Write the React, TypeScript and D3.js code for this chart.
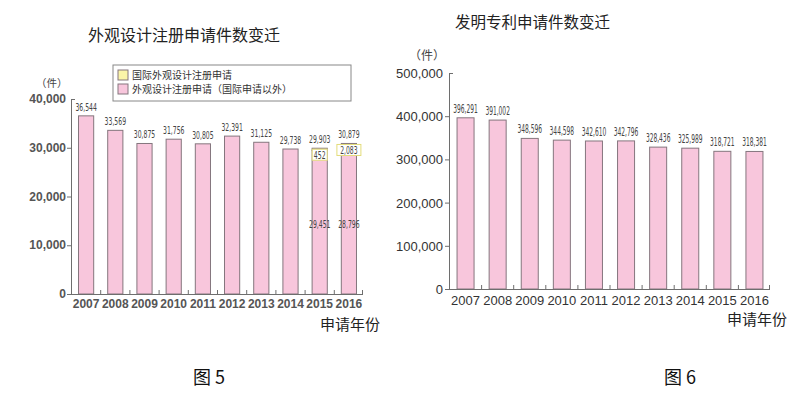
import React from "react";
import * as d3 from "d3";

const years = ["2007","2008","2009","2010","2011","2012","2013","2014","2015","2016"];
const designTotal = [36544, 33569, 30875, 31756, 30805, 32391, 31125, 29738, 29903, 30879];
const designIntl = [0, 0, 0, 0, 0, 0, 0, 0, 452, 2083];
const designDomesticLabels = [null, null, null, null, null, null, null, null, 29451, 28796];
const designTicks = [0, 10000, 20000, 30000, 40000];
const patentTotal = [396291, 391002, 348596, 344598, 342610, 342796, 328436, 325989, 318721, 318381];
const patentTicks = [0, 100000, 200000, 300000, 400000, 500000];

const PINK = "#f8c6dc";
const YELLOW = "#fbf5a8";
const BORDER = "#85767e";
const AXIS = "#6e6e6e";
const CJK = "'Noto Sans CJK SC', sans-serif";
const NARROW = "'DejaVu Sans Condensed', 'Liberation Sans', sans-serif";
const fmt = d3.format(",");

function Narrow({ x, y, text, sx = 0.62, size = 11 }: { x: number; y: number; text: string; sx?: number; size?: number }) {
  return (
    <g transform={`translate(${x},${y}) scale(${sx},1)`}>
      <text x={0} y={0} textAnchor="middle" fontFamily={NARROW} fontSize={size} fill="#444">{text}</text>
    </g>
  );
}

function LeftChart() {
  const x = d3.scaleBand<string>().domain(years).range([71, 363]).paddingInner(0.48).paddingOuter(0.24);
  const y = d3.scaleLinear().domain([0, 40000]).range([294, 99]);
  const bw = x.bandwidth();
  const step = x.step();
  return (
    <g>
      <text x={88} y={41} fontFamily={CJK} fontSize={16} fill="#222">外观设计注册申请件数变迁</text>
      <text x={36} y={87} fontFamily={CJK} fontSize={10.5} fill="#444">（件）</text>
      <rect x={113} y={65} width={238} height={36} fill="#fff" stroke="#888" strokeWidth={1} />
      <rect x={118} y={70} width={10} height={10} fill={YELLOW} stroke={BORDER} />
      <text x={132} y={79} fontFamily={CJK} fontSize={10} fill="#333">国际外观设计注册申请</text>
      <rect x={118} y={84} width={10} height={10} fill={PINK} stroke={BORDER} />
      <text x={132} y={93} fontFamily={CJK} fontSize={10} fill="#333">外观设计注册申请（国际申请以外）</text>
      <line x1={71.5} x2={71.5} y1={y(40000)} y2={y(0)} stroke={AXIS} />
      <line x1={71.5} x2={75} y1={y(40000) + 0.5} y2={y(40000) + 0.5} stroke={AXIS} />
      {designTicks.map((t) => (
        <g key={t}>
          {t !== 40000 && <line x1={67} x2={71.5} y1={y(t) + 0.5} y2={y(t) + 0.5} stroke={AXIS} />}
          <text x={66} y={y(t) + 4} textAnchor="end" fontFamily="'Liberation Sans', Arial, sans-serif" fontWeight="bold" fontSize={12} fill="#555">{fmt(t)}</text>
        </g>
      ))}
      {years.map((yr, i) => {
        const x0 = x(yr)!;
        const cx = x0 + 0.5 + bw / 2;
        const tot = designTotal[i];
        const intl = designIntl[i];
        const dom = tot - intl;
        return (
          <g key={yr}>
            <rect x={x0 + 0.5} y={y(dom)} width={bw} height={y(0) - y(dom)} fill={PINK} stroke={BORDER} />
            {intl > 0 && <rect x={x0 + 0.5} y={y(tot)} width={bw} height={y(dom) - y(tot)} fill={YELLOW} stroke={BORDER} />}
            <Narrow x={cx} y={y(tot) - 5} text={fmt(tot)} />
            {intl > 0 && (
              <g>
                <rect x={cx - (intl > 1000 ? 12 : 7.5)} y={y(tot) + 1} width={intl > 1000 ? 24 : 15} height={11} fill="#fff" stroke="#e3dc7a" />
                <Narrow x={cx} y={y(tot) + 10.5} text={fmt(intl)} />
              </g>
            )}
            {designDomesticLabels[i] != null && (
              <Narrow x={cx} y={228} text={fmt(designDomesticLabels[i] as number)} />
            )}
          </g>
        );
      })}
      <line x1={71} x2={363} y1={294.5} y2={294.5} stroke={AXIS} />
      {years.map((yr, i) => (
        <g key={yr}>
          {i > 0 && <line x1={x(yr)! - (step - bw) / 2 + 0.5} x2={x(yr)! - (step - bw) / 2 + 0.5} y1={294} y2={290} stroke={AXIS} />}
          <text x={x(yr)! + 0.5 + bw / 2} y={308} textAnchor="middle" fontFamily="'Liberation Sans', Arial, sans-serif" fontWeight="bold" fontSize={12} fill="#555">{yr}</text>
        </g>
      ))}
      <line x1={362.5} x2={362.5} y1={294} y2={290} stroke={AXIS} />
      <text x={320} y={330} fontFamily={CJK} fontSize={15} fill="#222">申请年份</text>
      <text x={193} y={384} fontFamily={CJK} fontSize={18} fill="#111">图 5</text>
    </g>
  );
}

function RightChart() {
  const x = d3.scaleBand<string>().domain(years).range([449, 770]).paddingInner(0.47).paddingOuter(0.235);
  const y = d3.scaleLinear().domain([0, 500000]).range([289, 73]);
  const bw = x.bandwidth();
  const step = x.step();
  return (
    <g>
      <text x={455} y={28} fontFamily={CJK} fontSize={15.5} fill="#222">发明专利申请件数变迁</text>
      <text x={409} y={60} fontFamily={CJK} fontSize={12} fill="#444">（件）</text>
      <line x1={449.5} x2={449.5} y1={y(500000)} y2={y(0)} stroke={AXIS} />
      <line x1={449.5} x2={453} y1={y(500000) + 0.5} y2={y(500000) + 0.5} stroke={AXIS} />
      {patentTicks.map((t) => (
        <g key={t}>
          {t !== 500000 && <line x1={445} x2={449.5} y1={y(t) + 0.5} y2={y(t) + 0.5} stroke={AXIS} />}
          <text x={443} y={y(t) + 5} textAnchor="end" fontFamily="'Liberation Sans', Arial, sans-serif" fontSize={13} fill="#333">{fmt(t)}</text>
        </g>
      ))}
      {years.map((yr, i) => {
        const x0 = x(yr)!;
        const v = patentTotal[i];
        return (
          <g key={yr}>
            <rect x={x0 + 0.5} y={y(v)} width={bw} height={y(0) - y(v)} fill={PINK} stroke={BORDER} />
            <Narrow x={x0 + 0.5 + bw / 2} y={y(v) - 5} text={fmt(v)} sx={0.55} size={12} />
          </g>
        );
      })}
      <line x1={449} x2={770} y1={289.5} y2={289.5} stroke={AXIS} />
      {years.map((yr, i) => (
        <g key={yr}>
          {i > 0 && <line x1={x(yr)! - (step - bw) / 2 + 0.5} x2={x(yr)! - (step - bw) / 2 + 0.5} y1={289} y2={285} stroke={AXIS} />}
          <text x={x(yr)! + 0.5 + bw / 2} y={305} textAnchor="middle" fontFamily="'Liberation Sans', Arial, sans-serif" fontSize={13} fill="#333">{yr}</text>
        </g>
      ))}
      <line x1={769.5} x2={769.5} y1={289} y2={285} stroke={AXIS} />
      <text x={727} y={325} fontFamily={CJK} fontSize={15} fill="#222">申请年份</text>
      <text x={664} y={384} fontFamily={CJK} fontSize={18} fill="#111">图 6</text>
    </g>
  );
}

export default function App() {
  return (
    <svg width={806} height={399} style={{ position: "absolute", left: 0, top: 0, background: "#fff" }}>
      <rect width={806} height={399} fill="#fff" />
      <LeftChart />
      <RightChart />
    </svg>
  );
}
